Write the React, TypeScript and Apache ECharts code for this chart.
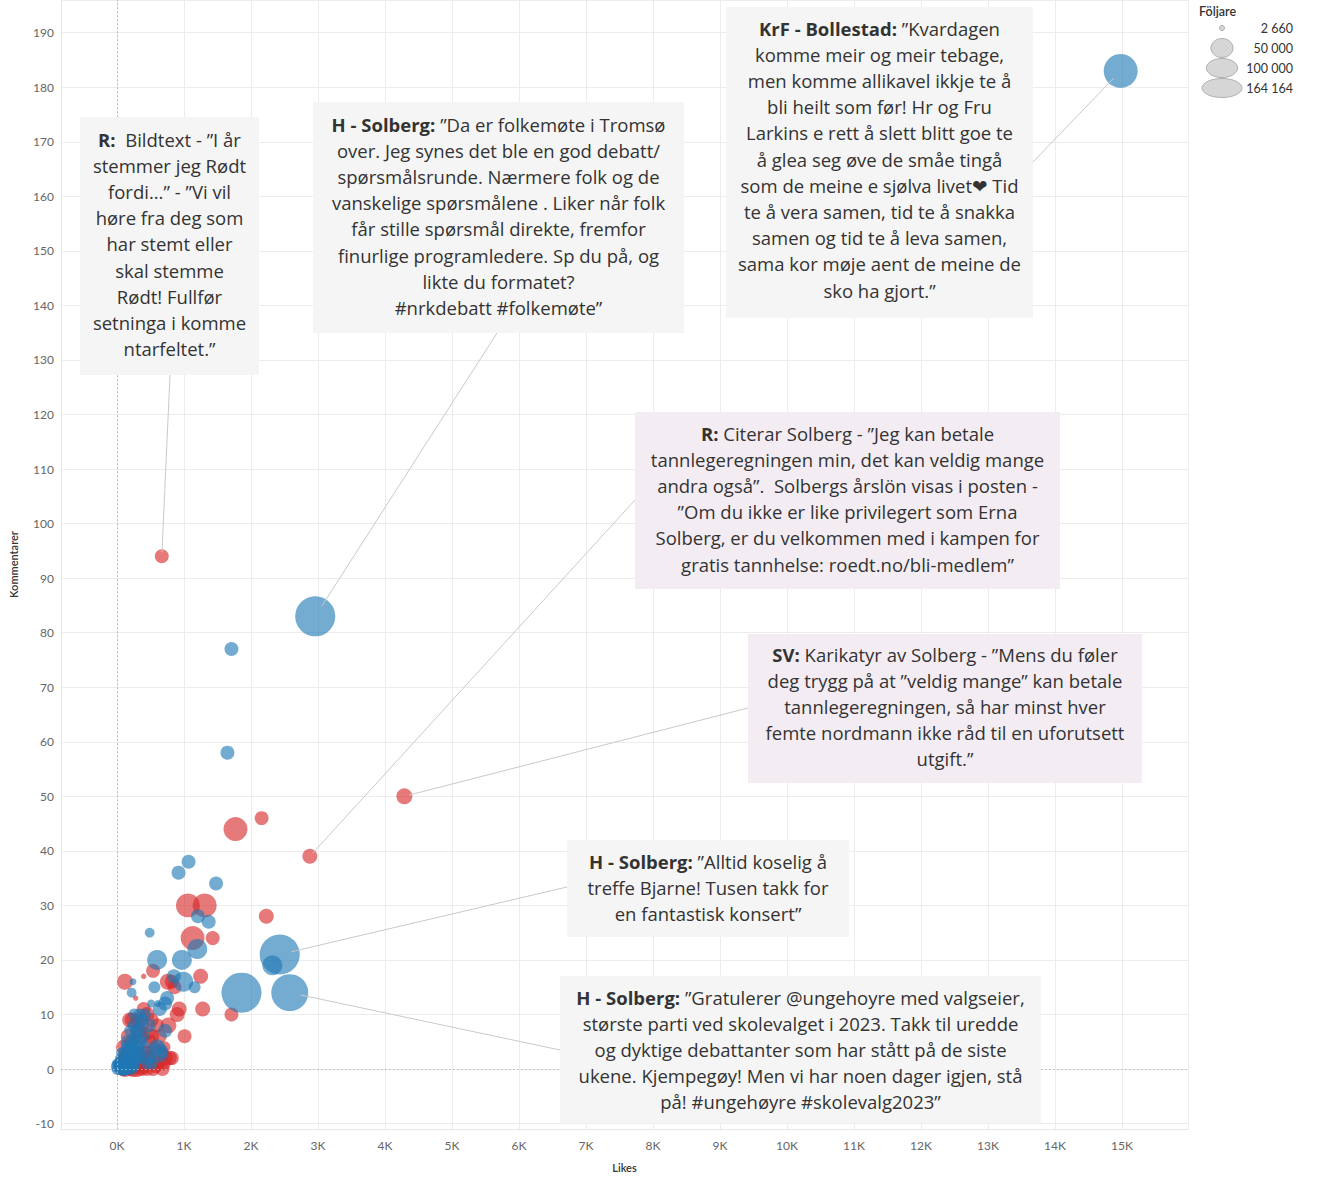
import React, { useEffect, useRef } from "react";
import * as echarts from "echarts";

// [likes, comments, followers]
const redPosts: number[][] = [
  [670, 94, 20000], [4290, 50, 26000], [2880, 39, 23000], [1770, 44, 59000],
  [2160, 46, 20000], [1060, 30, 59000], [1310, 30, 59000], [1130, 24, 59000],
  [1430, 24, 20000], [2230, 28, 23000], [1250, 17, 23000], [1280, 11, 23000],
  [1710, 10, 20000], [120, 16, 26000], [540, 18, 20000], [400, 17, 3000],
  [760, 16, 26000], [860, 15, 20000], [900, 10, 23000], [1010, 6, 20000],
  [190, 9, 23000], [400, 11, 20000], [280, 13, 3000], [770, 8, 26000],
  [220, 5, 20000], [450, 6.5, 20000], [490, 5, 20000], [790, 2, 20000],
  [700, 1, 20000], [150, 0.5, 20000], [370, 0, 20000], [580, 0.5, 20000],
  [930, 11, 23000], [820, 16, 20000], [520, 9, 20000], [640, 6, 20000],
  [300, 9, 20000], [350, 6, 20000], [250, 3, 20000], [100, 2, 20000],
  [200, 0, 20000], [300, 0, 26000], [450, 0, 20000], [60, 0.5, 20000],
  [130, 1, 26000], [400, 3, 20000], [500, 2, 20000], [620, 1, 20000],
  [820, 2, 20000], [300, 4, 20000], [240, 2, 20000], [180, 1, 26000],
  [330, 1, 20000], [560, 4, 14800], [710, 4, 14800], [600, 8, 20000],
  [160, 3, 20000], [90, 0, 20000], [260, 0.5, 20000], [420, 1, 20000],
  [540, 0, 20000], [680, 0, 20000], [380, 8, 20000], [450, 3, 20000],
  [80, 1, 26000], [200, 2, 26000], [280, 1, 26000], [350, 2, 26000],
  [100, 4, 23000], [170, 6, 23000], [320, 7, 23000], [450, 10, 23000],
  [520, 6, 23000], [650, 3, 26000], [230, 9, 23000], [120, 0, 26000],
  [240, 0, 26000], [400, 0.5, 26000], [470, 2, 23000], [720, 2, 23000],
];

const bluePosts: number[][] = [
  [14980, 183, 118000], [2960, 83, 164164], [1710, 77, 20000], [1650, 58, 20000],
  [1070, 38, 20000], [920, 36, 20000], [1480, 34, 20000], [1370, 27, 20000],
  [1210, 28, 20000], [490, 25, 10000], [1200, 22, 41000], [2430, 21, 164164],
  [2320, 19, 41000], [1860, 14, 164164], [2580, 14, 140000], [600, 20, 41000],
  [970, 20, 41000], [990, 16, 41000], [560, 15, 14800], [240, 16, 5000],
  [220, 14, 10000], [750, 13, 20000], [1160, 15, 14800], [850, 17, 20000],
  [610, 12, 5000], [510, 12, 6500], [720, 12, 20000], [640, 11, 20000],
  [340, 10, 14800], [480, 8, 20000], [720, 7, 20000], [300, 7, 20000],
  [340, 5, 20000], [620, 3, 41000], [670, 3, 14800], [270, 3.5, 14800],
  [250, 2, 14800], [520, 1, 14800], [30, 2, 6500], [0, 1, 10000],
  [0, 0.5, 14800], [50, 0, 14800], [100, 1, 14800], [150, 0, 14800],
  [200, 1, 14800], [120, 2, 14800], [180, 3, 14800], [80, 0.5, 20000],
  [220, 0, 14800], [260, 1, 14800], [300, 2, 14800], [350, 3, 14800],
  [400, 2, 14800], [150, 4, 14800], [230, 5, 14800], [280, 6, 14800],
  [330, 8, 14800], [200, 7, 14800], [380, 9, 14800], [260, 10, 14800],
  [420, 4, 14800], [450, 1, 14800], [500, 2, 14800], [10, 0, 14800],
  [20, 1, 10000], [60, 3, 10000], [140, 1, 20000], [170, 0.3, 20000],
  [250, 0.5, 14800], [110, 0, 20000], [40, 0.5, 14800], [190, 2, 14800],
  [300, 4, 20000], [380, 6, 20000], [160, 5, 20000], [200, 3, 20000],
  [250, 8, 14800], [420, 10, 14800], [60, 1, 20000], [100, 0, 20000],
  [130, 3, 20000], [600, 4, 26000], [210, 4, 20000], [290, 2, 20000],
];

const legendValues = [2660, 50000, 100000, 164164];
const legendLabels = ["2 660", "50 000", "100 000", "164 164"];

type Note = {
  bold: string;
  text: string;
  anchor: number[];
  box: number[]; // x, y, w, h
  textTop: number;
  from: number[];
  purple: boolean;
};

const notes: Note[] = [
  {
    bold: "R:",
    text: "  Bildtext - ”I år\nstemmer jeg Rødt\nfordi...” - ”Vi vil\nhøre fra deg som\nhar stemt eller\nskal stemme\nRødt! Fullfør\nsetninga i komme\nntarfeltet.”",
    anchor: [670, 94], box: [80, 117, 179, 258], textTop: 126, from: [170, 375], purple: false,
  },
  {
    bold: "H - Solberg:",
    text: " ”Da er folkemøte i Tromsø\nover. Jeg synes det ble en god debatt/\nspørsmålsrunde. Nærmere folk og de\nvanskelige spørsmålene . Liker når folk\nfår stille spørsmål direkte, fremfor\nfinurlige programledere. Sp du på, og\nlikte du formatet?\n#nrkdebatt #folkemøte”",
    anchor: [2960, 83], box: [313, 102, 371, 231], textTop: 111, from: [497, 333], purple: false,
  },
  {
    bold: "KrF - Bollestad:",
    text: " ”Kvardagen\nkomme meir og meir tebage,\nmen komme allikavel ikkje te å\nbli heilt som før! Hr og Fru\nLarkins e rett å slett blitt goe te\nå glea seg øve de småe tingå\nsom de meine e sjølva livet❤ Tid\nte å vera samen, tid te å snakka\nsamen og tid te å leva samen,\nsama kor møje aent de meine de\nsko ha gjort.”",
    anchor: [14980, 183], box: [726, 7, 307, 311], textTop: 15, from: [1033, 162], purple: false,
  },
  {
    bold: "R:",
    text: " Citerar Solberg - ”Jeg kan betale\ntannlegeregningen min, det kan veldig mange\nandra også”.  Solbergs årslön visas i posten -\n”Om du ikke er like privilegert som Erna\nSolberg, er du velkommen med i kampen for\ngratis tannhelse: roedt.no/bli-medlem”",
    anchor: [2880, 39], box: [635, 412, 425, 177], textTop: 420, from: [635, 500], purple: true,
  },
  {
    bold: "SV:",
    text: " Karikatyr av Solberg - ”Mens du føler\ndeg trygg på at ”veldig mange” kan betale\ntannlegeregningen, så har minst hver\nfemte nordmann ikke råd til en uforutsett\nutgift.”",
    anchor: [4290, 50], box: [748, 634, 394, 149], textTop: 641, from: [748, 708], purple: true,
  },
  {
    bold: "H - Solberg:",
    text: " ”Alltid koselig å\ntreffe Bjarne! Tusen takk for\nen fantastisk konsert”",
    anchor: [2430, 21], box: [567, 840, 282, 97], textTop: 848, from: [567, 887], purple: false,
  },
  {
    bold: "H - Solberg:",
    text: " ”Gratulerer @ungehoyre med valgseier,\nstørste parti ved skolevalget i 2023. Takk til uredde\nog dyktige debattanter som har stått på de siste\nukene. Kjempegøy! Men vi har noen dager igjen, stå\npå! #ungehøyre #skolevalg2023”",
    anchor: [2580, 14], box: [560, 976, 481, 147], textTop: 984, from: [560, 1050], purple: false,
  },
];

const MAX_F = 164164;
const MAX_D = 40;
const sizeOf = (f: number) => MAX_D * Math.sqrt(f / MAX_F);
const FONT = 'Lato, "Open Sans", "DejaVu Sans", sans-serif';
const NOTE_FONT = '"Open Sans", Lato, "DejaVu Sans", sans-serif';

export default function App() {
  const ref = useRef<HTMLDivElement>(null);
  useEffect(() => {
    document.body.style.margin = "0";
    if (!ref.current) return;
    const chart = echarts.init(ref.current, undefined, { renderer: "svg" });
    const option: any = {
      animation: false,
      backgroundColor: "#ffffff",
      textStyle: { fontFamily: FONT },
      grid: { left: 59, right: 150, top: 0, bottom: 55, containLabel: false },
      xAxis: {
        type: "value",
        min: -834,
        max: 15985,
        splitNumber: 17,
        name: "Likes",
        nameLocation: "middle",
        nameGap: 33,
        nameTextStyle: { fontSize: 11, color: "#333", fontWeight: 600, fontFamily: FONT },
        axisLine: { show: true, onZero: false, lineStyle: { color: "#e6e6e6" } },
        axisTick: { show: false },
        axisLabel: {
          showMinLabel: false,
          showMaxLabel: false,
          margin: 10,
          fontSize: 12,
          color: "#666",
          fontFamily: FONT,
          formatter: (v: number) => `${Math.round(v / 1000)}K`,
        },
        splitLine: { show: true, lineStyle: { color: "#ececec", width: 1 } },
      },
      yAxis: {
        type: "value",
        min: -11,
        max: 196,
        splitNumber: 21,
        name: "Kommentarer",
        nameLocation: "middle",
        nameGap: 42,
        nameRotate: 90,
        nameTextStyle: { fontSize: 11, color: "#333", fontWeight: 600, fontFamily: FONT },
        axisLine: { show: true, onZero: false, lineStyle: { color: "#e6e6e6" } },
        axisTick: { show: false },
        axisLabel: {
          showMinLabel: false,
          showMaxLabel: false,
          margin: 7,
          fontSize: 12,
          color: "#666",
          fontFamily: FONT,
        },
        splitLine: { show: true, lineStyle: { color: "#ececec", width: 1 } },
      },
      series: [
        {
          type: "scatter",
          name: "Röd",
          data: redPosts,
          symbolSize: (v: number[]) => sizeOf(v[2]),
          itemStyle: { color: "#d62728", opacity: 0.62 },
          markLine: {
            silent: true,
            symbol: "none",
            label: { show: false },
            lineStyle: { color: "#b5b5b5", type: [1.5, 2.5], width: 1 },
            data: [{ xAxis: 0 }, { yAxis: 0 }],
          },
        },
        {
          type: "scatter",
          name: "Blå",
          data: bluePosts,
          symbolSize: (v: number[]) => sizeOf(v[2]),
          itemStyle: { color: "#1f77b4", opacity: 0.62 },
        },
      ],
    };
    chart.setOption(option);

    const graphics: any[] = [];
    const all = [...redPosts, ...bluePosts];
    notes.forEach((n) => {
      const [bx, by, bw, bh] = n.box;
      const c = chart.convertToPixel({ gridIndex: 0 }, [n.anchor[0], n.anchor[1]]) as number[];
      const pt = all.find((p) => p[0] === n.anchor[0] && p[1] === n.anchor[1]);
      const r = pt ? sizeOf(pt[2]) / 2 : 8;
      const dx = n.from[0] - c[0];
      const dy = n.from[1] - c[1];
      const len = Math.sqrt(dx * dx + dy * dy) || 1;
      const off = r * 0.6;
      graphics.push({
        type: "line",
        z: 10,
        silent: true,
        shape: { x1: n.from[0], y1: n.from[1], x2: c[0] + (dx / len) * off, y2: c[1] + (dy / len) * off },
        style: { stroke: "#c9c9c9", lineWidth: 1 },
      });
      graphics.push({
        type: "rect",
        z: 20,
        silent: true,
        shape: { x: bx, y: by, width: bw, height: bh },
        style: { fill: n.purple ? "#f3edf3" : "#f5f5f5" },
      });
      graphics.push({
        type: "text",
        z: 21,
        silent: true,
        x: bx + bw / 2,
        y: n.textTop,
        style: {
          text: `{b|${n.bold}}${n.text}`,
          align: "center",
          verticalAlign: "top",
          fontSize: 18.5,
          lineHeight: 26.2,
          fill: "#333333",
          fontFamily: NOTE_FONT,
          rich: {
            b: { fontSize: 18.5, fontWeight: "bold", fill: "#333333", fontFamily: NOTE_FONT, lineHeight: 26.2 },
          },
        },
      });
    });

    // size legend
    graphics.push({
      type: "text",
      z: 30,
      x: 1199,
      y: 11,
      style: { text: "Följare", fontSize: 12.5, fontWeight: 600, fill: "#333", fontFamily: FONT, verticalAlign: "middle" },
    });
    legendValues.forEach((v, i) => {
      const d = sizeOf(v);
      const cy = 28 + i * 20;
      graphics.push({
        type: "ellipse",
        z: 30 + i,
        shape: { cx: 1222, cy, rx: d / 2, ry: Math.min(d / 2, 9.5) },
        style: { fill: "#d6d6d6", stroke: "#b0b0b0", lineWidth: 1 },
      });
      graphics.push({
        type: "text",
        z: 40,
        x: 1293,
        y: cy,
        style: {
          text: legendLabels[i],
          fontSize: 12.5,
          fill: "#333",
          fontFamily: FONT,
          align: "right",
          verticalAlign: "middle",
        },
      });
    });

    chart.setOption({ graphic: graphics });
    return () => chart.dispose();
  }, []);
  return <div ref={ref} style={{ width: 1338, height: 1184, position: "absolute", left: 0, top: 0 }} />;
}
